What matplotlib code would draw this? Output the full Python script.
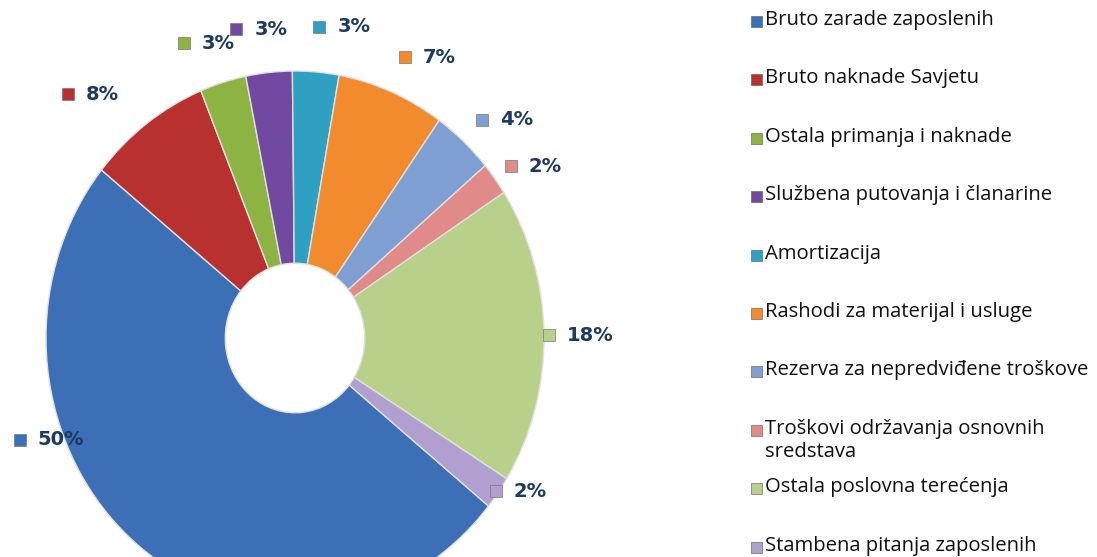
import matplotlib.pyplot as plt
import numpy as np
from matplotlib.patches import Rectangle

labels = ["Bruto zarade zaposlenih",
          "Bruto naknade Savjetu",
          "Ostala primanja i naknade",
          "Službena putovanja i članarine",
          "Amortizacija",
          "Rashodi za materijal i usluge",
          "Rezerva za nepredviđene troškove",
          "Troškovi održavanja osnovnih\nsredstava",
          "Ostala poslovna terećenja",
          "Stambena pitanja zaposlenih"]
values = [50, 8, 3, 3, 3, 7, 4, 2, 18, 2]
pct_labels = ["50%", "8%", "3%", "3%", "3%", "7%", "4%", "2%", "18%", "2%"]

colors = ["#3d6fb6", "#b8312f", "#8db443", "#7149a0", "#2fa0c2",
          "#f28b2e", "#7f9fd3", "#e08a8a", "#b9d08a", "#b09fcf"]

# where the value labels sit (radius factor, angle override)
label_r = [1.17, 1.29, 1.19, 1.18, 1.17, 1.14, 1.11, 1.08, 1.02, 0.99]
label_angle = {0: -161, 1: 135, 2: 112, 3: 101.5}

W, H = 1097, 557
fig = plt.figure(figsize=(W / 100, H / 100), dpi=100)
# pie is slightly taller than wide and runs off the bottom edge
ax = fig.add_axes([46 / W, -48 / H, 498 / W, 534 / H])
wedges, _ = ax.pie(values, colors=colors, startangle=-39, counterclock=False,
                   radius=1,
                   wedgeprops=dict(width=0.72, edgecolor="#e0e0e0", linewidth=1))
ax.set_aspect("auto")
ax.set_xlim(-1, 1)
ax.set_ylim(-1, 1)

navy = "#1c3a63"
for i, w in enumerate(wedges):
    ang = label_angle.get(i, (w.theta1 + w.theta2) / 2)
    x = label_r[i] * np.cos(np.radians(ang))
    y = label_r[i] * np.sin(np.radians(ang))
    ax.plot([x], [y], marker="s", markersize=8.5, color=colors[i],
            markeredgecolor="#777777", markeredgewidth=0.5, clip_on=False)
    ax.annotate(pct_labels[i], (x, y), xytext=(13, 0), textcoords="offset points",
                ha="left", va="center", fontsize=14, fontweight="bold",
                color=navy, family="DejaVu Sans", annotation_clip=False)

# legend on the right
for i, lab in enumerate(labels):
    yc = 21 + i * 58.4
    fig.patches.append(Rectangle((751 / W, 1 - (yc + 6) / H), 11 / W, 11 / H,
                                 transform=fig.transFigure, facecolor=colors[i],
                                 edgecolor="#555555", linewidth=0.4))
    fig.text(765 / W, 1 - (yc - 11) / H, lab, ha="left", va="top",
             fontsize=14.6, family="Open Sans", color="#111111", linespacing=1.2)

fig.savefig("out.png", dpi=100)
